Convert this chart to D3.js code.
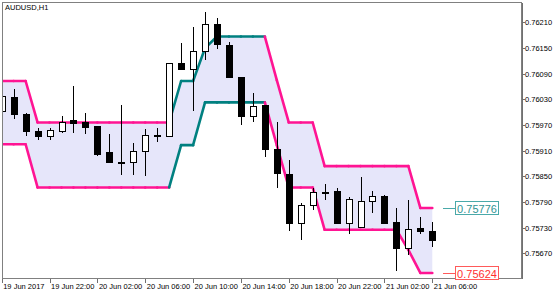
<!DOCTYPE html>
<html>
<head>
<meta charset="utf-8">
<script src="https://cdn.jsdelivr.net/npm/d3@7"></script>
<style>
  body { margin: 0; background: #fff; }
  svg { display: block; font-family: "Liberation Sans", Arial, sans-serif; }
  .axis text { font-size: 7.5px; fill: #000; }
  .axis path, .axis line { stroke: #707070; shape-rendering: crispEdges; }
</style>
</head>
<body>
<div class="canvas"></div>
<script>
const symbol = "AUDUSD,H1";

const times = [
  "19 Jun 18:00", "19 Jun 19:00", "19 Jun 20:00", "19 Jun 21:00", "19 Jun 22:00",
  "19 Jun 23:00", "20 Jun 00:00", "20 Jun 01:00", "20 Jun 02:00", "20 Jun 03:00",
  "20 Jun 04:00", "20 Jun 05:00", "20 Jun 06:00", "20 Jun 07:00", "20 Jun 08:00",
  "20 Jun 09:00", "20 Jun 10:00", "20 Jun 11:00", "20 Jun 12:00", "20 Jun 13:00",
  "20 Jun 14:00", "20 Jun 15:00", "20 Jun 16:00", "20 Jun 17:00", "20 Jun 18:00",
  "20 Jun 19:00", "20 Jun 20:00", "20 Jun 21:00", "20 Jun 22:00", "20 Jun 23:00",
  "21 Jun 00:00", "21 Jun 01:00", "21 Jun 02:00", "21 Jun 03:00", "21 Jun 04:00",
  "21 Jun 05:00", "21 Jun 06:00"
];

const open = [
  0.76001, 0.76035, 0.75995, 0.75956, 0.75944, 0.75956, 0.75981, 0.75975, 0.75966, 0.75905,
  0.75883, 0.75882, 0.75909, 0.75946, 0.75944, 0.76113, 0.76101, 0.76142, 0.76206, 0.76157,
  0.76081, 0.75991, 0.76015, 0.75913, 0.75855, 0.75740, 0.75781, 0.75812, 0.75815, 0.75740,
  0.75730, 0.75791, 0.75802, 0.75743, 0.75682, 0.75727, 0.75722
];
const high = [
  0.76040, 0.76054, 0.75998, 0.75964, 0.75962, 0.75991, 0.76061, 0.75999, 0.75967, 0.75949,
  0.76016, 0.75929, 0.75960, 0.75964, 0.76116, 0.76161, 0.76200, 0.76234, 0.76221, 0.76165,
  0.76082, 0.76044, 0.76016, 0.75976, 0.75888, 0.75787, 0.75822, 0.75832, 0.75823, 0.75801,
  0.75848, 0.75815, 0.75806, 0.75775, 0.75795, 0.75754, 0.75744
];
const low = [
  0.75998, 0.75983, 0.75944, 0.75935, 0.75935, 0.75952, 0.75951, 0.75948, 0.75898, 0.75882,
  0.75853, 0.75852, 0.75851, 0.75931, 0.75943, 0.76099, 0.76002, 0.76122, 0.76148, 0.76079,
  0.75970, 0.75977, 0.75895, 0.75822, 0.75723, 0.75702, 0.75771, 0.75794, 0.75740, 0.75715,
  0.75729, 0.75764, 0.75739, 0.75629, 0.75666, 0.75715, 0.75684
];
const close = [
  0.76036, 0.75994, 0.75956, 0.75944, 0.75957, 0.75977, 0.75974, 0.75965, 0.75902, 0.75883,
  0.75883, 0.75908, 0.75946, 0.75946, 0.76113, 0.76101, 0.76142, 0.76206, 0.76159, 0.76081,
  0.75991, 0.76013, 0.75912, 0.75856, 0.75740, 0.75781, 0.75812, 0.75812, 0.75740, 0.75796,
  0.75791, 0.75802, 0.75740, 0.75682, 0.75726, 0.75721, 0.75701
];

const upperBand = [
  0.76073, 0.76073, 0.76073, 0.75976, 0.75976, 0.75976, 0.75976, 0.75976, 0.75976, 0.75976,
  0.75976, 0.75976, 0.75976, 0.75976, 0.75976, 0.76073, 0.76073, 0.76150, 0.76177, 0.76177,
  0.76177, 0.76177, 0.76177, 0.76075, 0.75976, 0.75976, 0.75976, 0.75874, 0.75874, 0.75874,
  0.75874, 0.75874, 0.75874, 0.75874, 0.75874, 0.75776, 0.75776
];
const lowerBand = [
  0.75925, 0.75925, 0.75925, 0.75824, 0.75824, 0.75824, 0.75824, 0.75824, 0.75824, 0.75824,
  0.75824, 0.75824, 0.75824, 0.75824, 0.75824, 0.75923, 0.75923, 0.76023, 0.76023, 0.76023,
  0.76023, 0.76023, 0.76023, 0.75923, 0.75824, 0.75824, 0.75824, 0.75725, 0.75725, 0.75725,
  0.75725, 0.75725, 0.75725, 0.75725, 0.75678, 0.75624, 0.75624
];
// 1 = up (teal), -1 = down (pink)
const trend = [
  -1, -1, -1, -1, -1, -1, -1, -1, -1, -1, -1, -1, -1, -1, -1, 1, 1, 1, 1, 1,
  1, 1, 1, -1, -1, -1, -1, -1, -1, -1, -1, -1, -1, -1, -1, -1, -1
];

const yTicks = [0.75670, 0.75730, 0.75790, 0.75850, 0.75910, 0.75970, 0.76030, 0.76090, 0.76150, 0.76210];
const xTickTimes = ["19 Jun 18:00", "19 Jun 22:00", "20 Jun 02:00", "20 Jun 06:00", "20 Jun 10:00",
  "20 Jun 14:00", "20 Jun 18:00", "20 Jun 22:00", "21 Jun 02:00", "21 Jun 06:00"];
const xTickLabels = ["19 Jun 2017", "19 Jun 22:00", "20 Jun 02:00", "20 Jun 06:00", "20 Jun 10:00",
  "20 Jun 14:00", "20 Jun 18:00", "20 Jun 22:00", "21 Jun 02:00", "21 Jun 06:00"];

const colors = { up: "#008080", down: "#ff1493", fill: "#e6e6fa" };

function setup() {
  const width = 560;
  const height = 294;
  const plot = { left: 2, top: 2, right: 521, bottom: 278 };

  const x = d3.scalePoint().domain(times).range([1.7, 432.3]);
  const y = d3.scaleLinear().domain([0.756122, 0.762578]).range([plot.bottom, plot.top]);

  const svg = d3
    .select(".canvas")
    .append("svg")
    .attr("width", width)
    .attr("height", height);

  svg.append("defs")
    .append("clipPath")
    .attr("id", "clip")
    .append("rect")
    .attr("x", plot.left)
    .attr("y", plot.top)
    .attr("width", plot.right - plot.left)
    .attr("height", plot.bottom - plot.top);

  const chart = svg.append("g").attr("clip-path", "url(#clip)");

  const idx = d3.range(times.length);

  // channel fill
  const area = d3.area()
    .x((i) => x(times[i]))
    .y0((i) => y(lowerBand[i]))
    .y1((i) => y(upperBand[i]));
  chart.append("path").datum(idx).attr("d", area).attr("fill", colors.fill);

  // channel lines, coloured per segment
  const seg = d3.line().x((d) => d[0]).y((d) => d[1]);
  [upperBand, lowerBand].forEach((band) => {
    chart
      .selectAll(null)
      .data(idx.slice(1))
      .enter()
      .append("path")
      .attr("d", (i) => seg([[x(times[i - 1]), y(band[i - 1])], [x(times[i]), y(band[i])]]))
      .attr("fill", "none")
      .attr("stroke", (i) => (trend[i] > 0 ? colors.up : colors.down))
      .attr("stroke-width", 2.6)
      .attr("stroke-linecap", "round");
  });

  // candles
  const candles = chart.selectAll(".candle").data(idx).enter().append("g").attr("class", "candle");
  candles
    .append("line")
    .attr("x1", (i) => Math.round(x(times[i])) + 0.5)
    .attr("x2", (i) => Math.round(x(times[i])) + 0.5)
    .attr("y1", (i) => y(high[i]))
    .attr("y2", (i) => y(low[i]))
    .attr("stroke", "#000")
    .attr("shape-rendering", "crispEdges");
  candles
    .append("rect")
    .attr("x", (i) => Math.round(x(times[i])) - 3 + 0.5)
    .attr("width", 6)
    .attr("y", (i) => y(Math.max(open[i], close[i])))
    .attr("height", (i) => Math.max(1, Math.abs(y(open[i]) - y(close[i]))))
    .attr("fill", (i) => (close[i] >= open[i] ? "#fff" : "#000"))
    .attr("stroke", "#000")
    .attr("shape-rendering", "crispEdges");

  // frame
  svg.append("rect")
    .attr("x", plot.left + 0.5)
    .attr("y", plot.top + 0.5)
    .attr("width", plot.right - plot.left)
    .attr("height", plot.bottom - plot.top)
    .attr("fill", "none")
    .attr("stroke", "#808080")
    .attr("shape-rendering", "crispEdges");

  // axes
  const yAxis = d3.axisRight(y)
    .tickValues(yTicks)
    .tickFormat(d3.format(".5f"))
    .tickSize(3)
    .tickSizeOuter(0);
  svg.append("g")
    .attr("class", "axis")
    .attr("transform", `translate(${plot.right + 0.5}, 0)`)
    .call(yAxis)
    .call((g) => g.selectAll("text").attr("x", 3.5));

  const xAxis = d3.axisBottom(x)
    .tickValues(xTickTimes)
    .tickFormat((d) => xTickLabels[xTickTimes.indexOf(d)])
    .tickSize(4)
    .tickSizeOuter(0);
  svg.append("g")
    .attr("class", "axis")
    .attr("transform", `translate(0, ${plot.bottom + 0.5})`)
    .call(xAxis)
    .call((g) => g.select(".domain").remove())
    .call((g) => g.selectAll("text").attr("text-anchor", "start").attr("dx", 1).attr("y", 5));

  // title
  svg.append("text")
    .attr("x", 5)
    .attr("y", 10)
    .attr("font-size", 7.5)
    .text(symbol);

  // price labels for the last bar
  const last = times.length - 1;
  const tags = [
    { value: upperBand[last], stroke: "#4aa9a9", text: "#2f9393" },
    { value: lowerBand[last], stroke: "#ff5a5a", text: "#ff3030" },
  ];
  const tag = svg.selectAll(".tag").data(tags).enter().append("g").attr("class", "tag");
  tag.append("line")
    .attr("x1", 443).attr("x2", 455)
    .attr("y1", (d) => Math.round(y(d.value)) + 0.5)
    .attr("y2", (d) => Math.round(y(d.value)) + 0.5)
    .attr("stroke", (d) => d.stroke);
  tag.append("rect")
    .attr("x", 455.5)
    .attr("y", (d) => Math.round(y(d.value)) - 6.5)
    .attr("width", 43)
    .attr("height", 13)
    .attr("fill", "#fff")
    .attr("stroke", (d) => d.stroke)
    .attr("shape-rendering", "crispEdges");
  tag.append("text")
    .attr("x", 477)
    .attr("y", (d) => Math.round(y(d.value)) + 4.5)
    .attr("text-anchor", "middle")
    .attr("font-size", 11)
    .attr("fill", (d) => d.text)
    .text((d) => d.value.toFixed(5));
}

setup();
</script>
</body>
</html>
